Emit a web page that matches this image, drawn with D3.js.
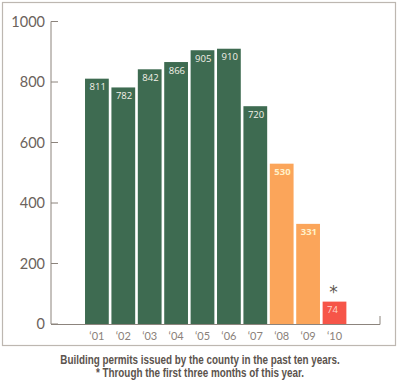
<!DOCTYPE html>
<html><head><meta charset="utf-8">
<script src="https://cdn.jsdelivr.net/npm/d3@7"></script>
<style>body{margin:0;background:#fff}svg{display:block}</style>
</head><body>
<svg id="c" width="400" height="383"></svg>
<script>
const years = ["‘01","‘02","‘03","‘04","‘05","‘06","‘07","‘08","‘09","‘10"];
const permits = [811, 782, 842, 866, 905, 910, 720, 530, 331, 74];
const groups = ["past","past","past","past","past","past","past","slump","slump","partial"];
const yTicks = [0, 200, 400, 600, 800, 1000];
const caption = ["Building permits issued by the county in the past ten years.",
                 "* Through the first three months of this year."];

const colors = {past:"#3e6b51", slump:"#fba55a", partial:"#f65548"};
const labelColors = {past:"#f4f1e8", slump:"#fff0c8", partial:"#ffd8cc"};

const svg = d3.select("#c");
svg.append("rect").attr("x",2.5).attr("y",2.5).attr("width",393).attr("height",343)
  .attr("fill","#fff").attr("stroke","#bdb7b1").attr("stroke-width",1.2);

const x = d3.scaleBand().domain(years).range([83.7,347.7]).paddingInner(0.1).paddingOuter(0.05);
const y = d3.scaleLinear().domain([0,1000]).range([324,21.5]);
const axisColor = "#8c847d";

svg.append("line").attr("x1",51).attr("x2",51).attr("y1",y(1000)).attr("y2",y(0))
  .attr("stroke",axisColor).attr("stroke-width",1);
const yt = svg.append("g").selectAll("g").data(yTicks).join("g");
yt.append("line").attr("x1",51).attr("x2",58).attr("y1",d=>y(d)).attr("y2",d=>y(d))
  .attr("stroke",axisColor);
yt.append("text").attr("x",45).attr("y",d=>y(d)).attr("dy","0.36em").attr("text-anchor","end")
  .attr("font-family","Lato, 'Open Sans', sans-serif").attr("font-size",14.5).attr("fill","#6b625b")
  .text(d=>d);

svg.append("line").attr("x1",51).attr("x2",380).attr("y1",y(0)+0.5).attr("y2",y(0)+0.5)
  .attr("stroke",axisColor);
svg.append("line").attr("x1",380).attr("x2",380).attr("y1",y(0)-8).attr("y2",y(0)+0.5)
  .attr("stroke",axisColor);

svg.append("g").selectAll("rect").data(permits).join("rect")
  .attr("x",(d,i)=>x(years[i])).attr("width",x.bandwidth())
  .attr("y",d=>y(d)).attr("height",d=>y(0)-y(d))
  .attr("fill",(d,i)=>colors[groups[i]]);

svg.append("g").selectAll("text").data(permits).join("text")
  .attr("x",(d,i)=>x(years[i])+4.5).attr("y",d=>y(d)+11.5)
  .attr("font-family","'Open Sans', Lato, sans-serif").attr("font-size",9.5)
  .attr("fill",(d,i)=>labelColors[groups[i]])
  .attr("font-weight",(d,i)=>groups[i]==="slump"?"bold":"normal")
  .text(d=>d);

svg.append("text").attr("x",x(years[9])+x.bandwidth()/2 - 1).attr("y",y(permits[9])-4)
  .attr("text-anchor","middle").attr("font-family","DejaVu Sans, sans-serif").attr("font-size",17)
  .attr("fill","#5f5852").text("*");

svg.append("g").selectAll("text").data(years).join("text")
  .attr("x",d=>x(d)+x.bandwidth()/2).attr("y",340)
  .attr("text-anchor","middle").attr("font-family","Lato, 'Open Sans', sans-serif")
  .attr("font-size",11).attr("fill","#8a817a").text(d=>d);

svg.append("g").attr("transform","translate(200,0) scale(0.79,1)")
  .selectAll("text").data(caption).join("text")
  .attr("x",0).attr("y",(d,i)=>364.5+i*13).attr("text-anchor","middle")
  .attr("font-family","'Liberation Sans', Arial, sans-serif")
  .attr("font-weight","bold").attr("font-size",12.5).attr("fill","#5b534d").text(d=>d);
</script>
</body></html>
